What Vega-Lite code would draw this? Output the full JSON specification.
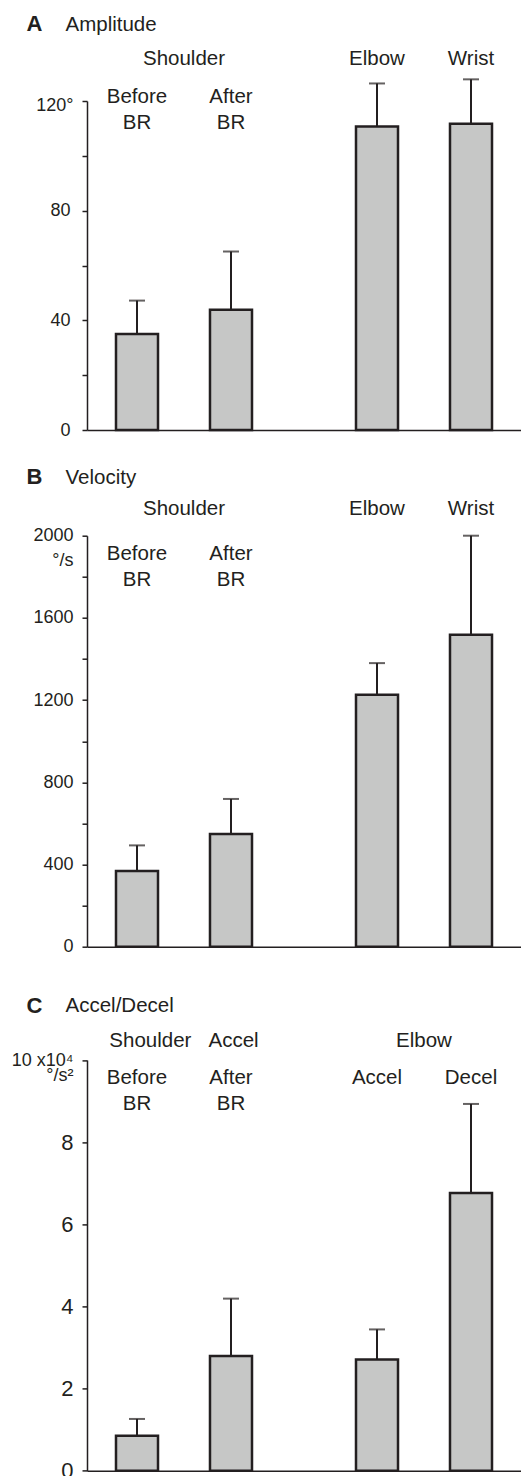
{
  "$schema": "https://vega.github.io/schema/vega-lite/v6.json",
  "padding": {"left": 11, "top": 12, "right": 0, "bottom": 0},
  "bounds": "flush",
  "spacing": 105.7,
  "config": {
    "view": {"stroke": null},
    "font": "Liberation Sans",
    "axis": {
      "domainColor": "#231f20", "domainWidth": 1.5,
      "tickColor": "#231f20", "tickWidth": 1.5, "tickSize": 5,
      "labelColor": "#231f20", "labelFont": "Liberation Sans", "labelFontSize": 18,
      "titleColor": "#231f20", "titleFont": "Liberation Sans", "grid": false
    },
    "text": {"font": "Liberation Sans", "fontSize": 20.5, "color": "#231f20", "lineBreak": "\n", "lineHeight": 26.5, "baseline": "alphabetic"}
  },
  "datasets": {
    "ampBars": [
      {"group": "Shoulder", "member": "first", "value": 35.0, "upper": 47.2},
      {"group": "Shoulder", "member": "second", "value": 43.9, "upper": 65.1},
      {"group": "Elbow & Wrist", "member": "first", "value": 110.7, "upper": 126.4},
      {"group": "Elbow & Wrist", "member": "second", "value": 111.7, "upper": 127.9}
    ],
    "velBars": [
      {"group": "Shoulder", "member": "first", "value": 368, "upper": 493},
      {"group": "Shoulder", "member": "second", "value": 548, "upper": 719},
      {"group": "Elbow & Wrist", "member": "first", "value": 1226, "upper": 1380},
      {"group": "Elbow & Wrist", "member": "second", "value": 1518, "upper": 2000}
    ],
    "accBars": [
      {"group": "Shoulder Accel", "member": "first", "value": 0.85, "upper": 1.26},
      {"group": "Shoulder Accel", "member": "second", "value": 2.79, "upper": 4.19},
      {"group": "Elbow", "member": "first", "value": 2.71, "upper": 3.44},
      {"group": "Elbow", "member": "second", "value": 6.76, "upper": 8.93}
    ],
    "jointLabels": [
      {"group": "Shoulder", "member": null, "text": "Shoulder", "line": "top", "level": "group"},
      {"group": "Elbow & Wrist", "member": "first", "text": "Elbow", "line": "top", "level": "bar"},
      {"group": "Elbow & Wrist", "member": "second", "text": "Wrist", "line": "top", "level": "bar"},
      {"group": "Shoulder", "member": "first", "text": "Before\nBR", "line": "second", "level": "bar"},
      {"group": "Shoulder", "member": "second", "text": "After\nBR", "line": "second", "level": "bar"}
    ],
    "accLabels": [
      {"group": "Shoulder Accel", "member": null, "text": "Shoulder\u00a0\u00a0\u00a0Accel", "line": "top", "level": "group"},
      {"group": "Elbow", "member": null, "text": "Elbow", "line": "top", "level": "group"},
      {"group": "Shoulder Accel", "member": "first", "text": "Before\nBR", "line": "second", "level": "bar"},
      {"group": "Shoulder Accel", "member": "second", "text": "After\nBR", "line": "second", "level": "bar"},
      {"group": "Elbow", "member": "first", "text": "Accel", "line": "second", "level": "bar"},
      {"group": "Elbow", "member": "second", "text": "Decel", "line": "second", "level": "bar"}
    ]
  },
  "vconcat": [
    {
      "width": 434, "height": 329,
      "layer": [
        {
          "data": {"name": "ampBars"},
          "mark": {"type": "bar", "fill": "#c6c7c6", "stroke": "#231f20", "strokeWidth": 2.5},
          "encoding": {
            "x": {"field": "group", "type": "nominal", "scale": {"domain": ["Shoulder", "Elbow & Wrist"], "paddingInner": 0.4333, "paddingOuter": 0.1208},
              "axis": {"labels": false, "ticks": false, "title": "A", "titleFontWeight": "bold", "titleFontSize": 22, "titleAlign": "left", "titleBaseline": "alphabetic", "titleX": -61, "titleY": -399.3}},
            "xOffset": {"field": "member", "type": "nominal", "scale": {"domain": ["first", "second"], "paddingInner": 0.553, "paddingOuter": 0}},
            "y": {"field": "value", "type": "quantitative", "scale": {"domain": [0, 120]},
              "axis": {"values": [0, 20, 40, 60, 80, 100, 120],
                "labelExpr": "datum.value == 120 ? '120°' : (datum.value % 40 == 0 ? datum.label : '')",
                "labelPadding": {"condition": {"test": "datum.value == 120", "value": 9}, "value": 12},
                "labelOffset": {"condition": {"test": "datum.value == 120", "value": 4}, "value": 0},
                "title": "Amplitude", "titleAngle": 0, "titleAlign": "left", "titleBaseline": "alphabetic", "titleX": -22, "titleY": -70.3, "titleFontSize": 20.5, "titleFontWeight": "normal"}}
          }
        },
        {
          "data": {"name": "ampBars"},
          "mark": {"type": "rule", "stroke": "#231f20", "strokeWidth": 2},
          "encoding": {
            "x": {"field": "group", "type": "nominal"},
            "xOffset": {"field": "member", "type": "nominal"},
            "y": {"field": "value", "type": "quantitative"},
            "y2": {"field": "upper"}
          }
        },
        {
          "data": {"name": "ampBars"},
          "mark": {"type": "tick", "color": "#231f20", "size": 16, "thickness": 2},
          "encoding": {
            "x": {"field": "group", "type": "nominal"},
            "xOffset": {"field": "member", "type": "nominal"},
            "y": {"field": "upper", "type": "quantitative"}
          }
        },
        {
          "data": {"name": "jointLabels"},
          "transform": [{"filter": "datum.level == 'group'"}],
          "mark": {"type": "text"},
          "encoding": {
            "x": {"field": "group", "type": "nominal"},
            "y": {"datum": 133.2},
            "text": {"field": "text"}
          }
        },
        {
          "data": {"name": "jointLabels"},
          "transform": [{"filter": "datum.level == 'bar' && datum.line == 'top'"}],
          "mark": {"type": "text"},
          "encoding": {
            "x": {"field": "group", "type": "nominal"},
            "xOffset": {"field": "member", "type": "nominal"},
            "y": {"datum": 133.2},
            "text": {"field": "text"}
          }
        },
        {
          "data": {"name": "jointLabels"},
          "transform": [{"filter": "datum.level == 'bar' && datum.line == 'second'"}],
          "mark": {"type": "text"},
          "encoding": {
            "x": {"field": "group", "type": "nominal"},
            "xOffset": {"field": "member", "type": "nominal"},
            "y": {"datum": 119.4},
            "text": {"field": "text"}
          }
        }
      ]
    },
    {
      "width": 434, "height": 411,
      "layer": [
        {
          "data": {"name": "velBars"},
          "mark": {"type": "bar", "fill": "#c6c7c6", "stroke": "#231f20", "strokeWidth": 2.5},
          "encoding": {
            "x": {"field": "group", "type": "nominal", "scale": {"domain": ["Shoulder", "Elbow & Wrist"], "paddingInner": 0.4333, "paddingOuter": 0.1208},
              "axis": {"labels": false, "ticks": false, "title": "B", "titleFontWeight": "bold", "titleFontSize": 22, "titleAlign": "left", "titleBaseline": "alphabetic", "titleX": -61, "titleY": -463}},
            "xOffset": {"field": "member", "type": "nominal", "scale": {"domain": ["first", "second"], "paddingInner": 0.553, "paddingOuter": 0}},
            "y": {"field": "value", "type": "quantitative", "scale": {"domain": [0, 2000]},
              "axis": {"values": [0, 200, 400, 600, 800, 1000, 1200, 1400, 1600, 1800, 2000], "format": "d",
                "labelExpr": "datum.value == 2000 ? ['2000', '°/s'] : (datum.value % 400 == 0 ? datum.label : '')",
                "labelPadding": 9, "labelLineHeight": 25,
                "title": "Velocity", "titleAngle": 0, "titleAlign": "left", "titleBaseline": "alphabetic", "titleX": -22, "titleY": -52, "titleFontSize": 20.5, "titleFontWeight": "normal"}}
          }
        },
        {
          "data": {"name": "velBars"},
          "mark": {"type": "rule", "stroke": "#231f20", "strokeWidth": 2},
          "encoding": {
            "x": {"field": "group", "type": "nominal"},
            "xOffset": {"field": "member", "type": "nominal"},
            "y": {"field": "value", "type": "quantitative"},
            "y2": {"field": "upper"}
          }
        },
        {
          "data": {"name": "velBars"},
          "mark": {"type": "tick", "color": "#231f20", "size": 16, "thickness": 2},
          "encoding": {
            "x": {"field": "group", "type": "nominal"},
            "xOffset": {"field": "member", "type": "nominal"},
            "y": {"field": "upper", "type": "quantitative"}
          }
        },
        {
          "data": {"name": "jointLabels"},
          "transform": [{"filter": "datum.level == 'group'"}],
          "mark": {"type": "text"},
          "encoding": {
            "x": {"field": "group", "type": "nominal"},
            "y": {"datum": 2102},
            "text": {"field": "text"}
          }
        },
        {
          "data": {"name": "jointLabels"},
          "transform": [{"filter": "datum.level == 'bar' && datum.line == 'top'"}],
          "mark": {"type": "text"},
          "encoding": {
            "x": {"field": "group", "type": "nominal"},
            "xOffset": {"field": "member", "type": "nominal"},
            "y": {"datum": 2102},
            "text": {"field": "text"}
          }
        },
        {
          "data": {"name": "jointLabels"},
          "transform": [{"filter": "datum.level == 'bar' && datum.line == 'second'"}],
          "mark": {"type": "text"},
          "encoding": {
            "x": {"field": "group", "type": "nominal"},
            "xOffset": {"field": "member", "type": "nominal"},
            "y": {"datum": 1883},
            "text": {"field": "text"}
          }
        }
      ]
    },
    {
      "width": 434, "height": 418.3,
      "layer": [
        {
          "data": {"name": "accBars"},
          "mark": {"type": "bar", "fill": "#c6c7c6", "stroke": "#231f20", "strokeWidth": 2.5},
          "encoding": {
            "x": {"field": "group", "type": "nominal", "scale": {"domain": ["Shoulder Accel", "Elbow"], "paddingInner": 0.4333, "paddingOuter": 0.1208},
              "axis": {"labels": false, "ticks": false, "title": "C", "titleFontWeight": "bold", "titleFontSize": 22, "titleAlign": "left", "titleBaseline": "alphabetic", "titleX": -61, "titleY": -458.3}},
            "xOffset": {"field": "member", "type": "nominal", "scale": {"domain": ["first", "second"], "paddingInner": 0.553, "paddingOuter": 0}},
            "y": {"field": "value", "type": "quantitative", "scale": {"domain": [0, 10], "range": [418.3, 7.6]},
              "axis": {"values": [0, 2, 4, 6, 8, 10],
                "labelExpr": "datum.value == 10 ? ['10 x10⁴', '°/s²\u00a0'] : datum.label",
                "labelPadding": 9, "labelLineHeight": 15,
                "labelFontSize": {"condition": {"test": "datum.value == 10", "value": 18}, "value": 22},
                "title": "Accel/Decel", "titleAngle": 0, "titleAlign": "left", "titleBaseline": "alphabetic", "titleX": -22, "titleY": -40.7, "titleFontSize": 20.5, "titleFontWeight": "normal"}}
          }
        },
        {
          "data": {"name": "accBars"},
          "mark": {"type": "rule", "stroke": "#231f20", "strokeWidth": 2},
          "encoding": {
            "x": {"field": "group", "type": "nominal"},
            "xOffset": {"field": "member", "type": "nominal"},
            "y": {"field": "value", "type": "quantitative"},
            "y2": {"field": "upper"}
          }
        },
        {
          "data": {"name": "accBars"},
          "mark": {"type": "tick", "color": "#231f20", "size": 16, "thickness": 2},
          "encoding": {
            "x": {"field": "group", "type": "nominal"},
            "xOffset": {"field": "member", "type": "nominal"},
            "y": {"field": "upper", "type": "quantitative"}
          }
        },
        {
          "data": {"name": "accLabels"},
          "transform": [{"filter": "datum.level == 'group'"}],
          "mark": {"type": "text"},
          "encoding": {
            "x": {"field": "group", "type": "nominal"},
            "y": {"datum": 10.32},
            "text": {"field": "text"}
          }
        },
        {
          "data": {"name": "accLabels"},
          "transform": [{"filter": "datum.level == 'bar'"}],
          "mark": {"type": "text"},
          "encoding": {
            "x": {"field": "group", "type": "nominal"},
            "xOffset": {"field": "member", "type": "nominal"},
            "y": {"datum": 9.42},
            "text": {"field": "text"}
          }
        }
      ]
    }
  ]
}
